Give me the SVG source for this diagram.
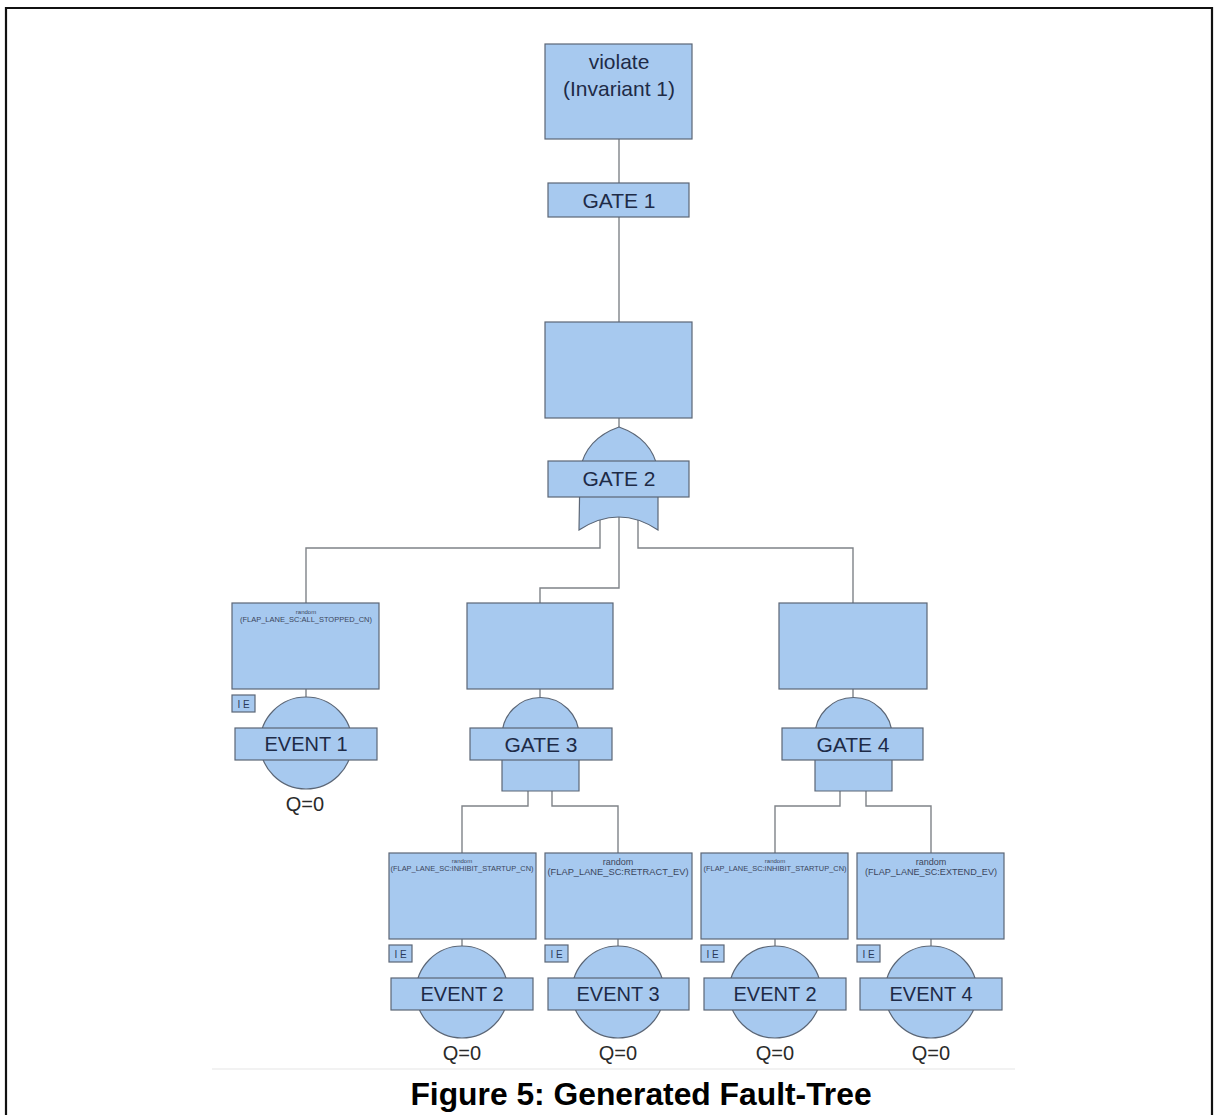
<svg xmlns="http://www.w3.org/2000/svg" width="1217" height="1115" viewBox="0 0 1217 1115">
  <style>
    .box { fill: #a7c9ef; stroke: #5b6676; stroke-width: 1.2; }
    .wire { fill: none; stroke: #7f8388; stroke-width: 1.4; }
    .lbl { font-family: "Liberation Sans", Arial, sans-serif; fill: #1e2b47; text-anchor: middle; }
    .big { font-size: 21px; }
    .ev { font-size: 20px; }
    .tiny { font-family: "Liberation Sans", Arial, sans-serif; fill: #3b465c; text-anchor: middle; }
    .q { font-family: "Liberation Sans", Arial, sans-serif; font-size: 20px; fill: #2a2a2a; text-anchor: middle; }
    .ie { font-family: "Liberation Sans", Arial, sans-serif; font-size: 10px; fill: #2a3a5a; text-anchor: middle; }
  </style>

  <rect width="1217" height="1115" fill="#ffffff"/>
  <!-- page frame -->
  <path d="M6,1115 V8 H1212 V1115" fill="none" stroke="#111" stroke-width="2.2"/>
  <line x1="212" y1="1069" x2="1015" y2="1069" stroke="#eeeeee" stroke-width="1.5"/>

  <!-- connectors -->
  <g id="connectors" class="wire">
    <path d="M619,139 V183"/>
    <path d="M619,217 V322"/>
    <path d="M619,418 V427"/>
    <path d="M600,520 V548 H306 V603"/>
    <path d="M619,517 V588 H540 V603"/>
    <path d="M638,520 V548 H853 V603"/>
    <path d="M306,689 V697"/>
    <path d="M540,689 V697"/>
    <path d="M853,689 V697"/>
    <path d="M528,791 V806 H462 V853"/>
    <path d="M552,791 V806 H618 V853"/>
    <path d="M840,791 V806 H775 V853"/>
    <path d="M866,791 V806 H931 V853"/>
    <path d="M462,939 V946"/>
    <path d="M618,939 V946"/>
    <path d="M775,939 V946"/>
    <path d="M931,939 V946"/>
  </g>

  <!-- top event -->
  <g id="top-event">
    <rect class="box" x="545" y="44" width="147" height="95"/>
    <text class="lbl big" x="619" y="69">violate</text>
    <text class="lbl big" x="619" y="96">(Invariant 1)</text>
  </g>

  <!-- GATE 1 -->
  <g id="gate1">
    <rect class="box" x="548" y="183" width="141" height="34"/>
    <text class="lbl big" x="619" y="208">GATE 1</text>
  </g>

  <!-- GATE 2 (OR) -->
  <g id="gate2">
    <rect class="box" x="545" y="322" width="147" height="96"/>
    <path class="box" d="M619,427 C599,434 584,448 580,470 L579,530 Q619,504 658,530 L658,470 C654,448 639,434 619,427 Z"/>
    <rect class="box" x="548" y="461" width="141" height="36"/>
    <text class="lbl big" x="619" y="486">GATE 2</text>
  </g>

  <!-- GATE 3 (AND) -->
  <g id="gate3">
    <rect class="box" x="467" y="603" width="146" height="86"/>
    <path class="box" d="M502,791 V736 A38.5,38.5 0 0 1 579,736 V791 Z"/>
    <rect class="box" x="470" y="728" width="142" height="32"/>
    <text class="lbl big" x="541" y="752">GATE 3</text>
  </g>

  <!-- GATE 4 (AND) -->
  <g id="gate4">
    <rect class="box" x="779" y="603" width="148" height="86"/>
    <path class="box" d="M815,791 V736 A38.5,38.5 0 0 1 892,736 V791 Z"/>
    <rect class="box" x="782" y="728" width="141" height="32"/>
    <text class="lbl big" x="853" y="752">GATE 4</text>
  </g>

  <!-- EVENT 1 -->
  <g id="event1">
    <rect class="box" x="232" y="603" width="147" height="86"/>
    <text class="tiny" x="306" y="614" font-size="6">random</text>
    <text class="tiny" x="306" y="622" font-size="6.5" textLength="132" lengthAdjust="spacingAndGlyphs">(FLAP_LANE_SC:ALL_STOPPED_CN)</text>
    <rect class="box" x="232" y="695" width="23" height="17"/>
    <text class="ie" x="243.5" y="707.5">I E</text>
    <circle class="box" cx="306" cy="743" r="46"/>
    <rect class="box" x="235" y="728" width="142" height="32"/>
    <text class="lbl ev" x="306" y="751">EVENT 1</text>
    <text class="q" x="305" y="811">Q=0</text>
  </g>

  <!-- EVENT 2 (under GATE 3) -->
  <g id="event2a">
    <rect class="box" x="389" y="853" width="147" height="86"/>
    <text class="tiny" x="462" y="863" font-size="6">random</text>
    <text class="tiny" x="462" y="871" font-size="6.5" textLength="143" lengthAdjust="spacingAndGlyphs">(FLAP_LANE_SC:INHIBIT_STARTUP_CN)</text>
    <rect class="box" x="389" y="945" width="23" height="17"/>
    <text class="ie" x="400.5" y="957.5">I E</text>
    <circle class="box" cx="462" cy="992" r="46"/>
    <rect class="box" x="391" y="978" width="142" height="32"/>
    <text class="lbl ev" x="462" y="1001">EVENT 2</text>
    <text class="q" x="462" y="1060">Q=0</text>
  </g>

  <!-- EVENT 3 -->
  <g id="event3">
    <rect class="box" x="545" y="853" width="147" height="86"/>
    <text class="tiny" x="618" y="865" font-size="9">random</text>
    <text class="tiny" x="618" y="875" font-size="9" textLength="141" lengthAdjust="spacingAndGlyphs">(FLAP_LANE_SC:RETRACT_EV)</text>
    <rect class="box" x="545" y="945" width="23" height="17"/>
    <text class="ie" x="556.5" y="957.5">I E</text>
    <circle class="box" cx="618" cy="992" r="46"/>
    <rect class="box" x="548" y="978" width="141" height="32"/>
    <text class="lbl ev" x="618" y="1001">EVENT 3</text>
    <text class="q" x="618" y="1060">Q=0</text>
  </g>

  <!-- EVENT 2 (under GATE 4) -->
  <g id="event2b">
    <rect class="box" x="701" y="853" width="147" height="86"/>
    <text class="tiny" x="775" y="863" font-size="6">random</text>
    <text class="tiny" x="775" y="871" font-size="6.5" textLength="143" lengthAdjust="spacingAndGlyphs">(FLAP_LANE_SC:INHIBIT_STARTUP_CN)</text>
    <rect class="box" x="701" y="945" width="23" height="17"/>
    <text class="ie" x="712.5" y="957.5">I E</text>
    <circle class="box" cx="775" cy="992" r="46"/>
    <rect class="box" x="704" y="978" width="142" height="32"/>
    <text class="lbl ev" x="775" y="1001">EVENT 2</text>
    <text class="q" x="775" y="1060">Q=0</text>
  </g>

  <!-- EVENT 4 -->
  <g id="event4">
    <rect class="box" x="857" y="853" width="147" height="86"/>
    <text class="tiny" x="931" y="865" font-size="9">random</text>
    <text class="tiny" x="931" y="875" font-size="9" textLength="132" lengthAdjust="spacingAndGlyphs">(FLAP_LANE_SC:EXTEND_EV)</text>
    <rect class="box" x="857" y="945" width="23" height="17"/>
    <text class="ie" x="868.5" y="957.5">I E</text>
    <circle class="box" cx="931" cy="992" r="46"/>
    <rect class="box" x="860" y="978" width="142" height="32"/>
    <text class="lbl ev" x="931" y="1001">EVENT 4</text>
    <text class="q" x="931" y="1060">Q=0</text>
  </g>

  <!-- caption -->
  <text x="641" y="1105" font-family="'Liberation Sans', Arial, sans-serif" font-size="31.8" font-weight="bold" fill="#000" text-anchor="middle">Figure 5: Generated Fault-Tree</text>
</svg>
